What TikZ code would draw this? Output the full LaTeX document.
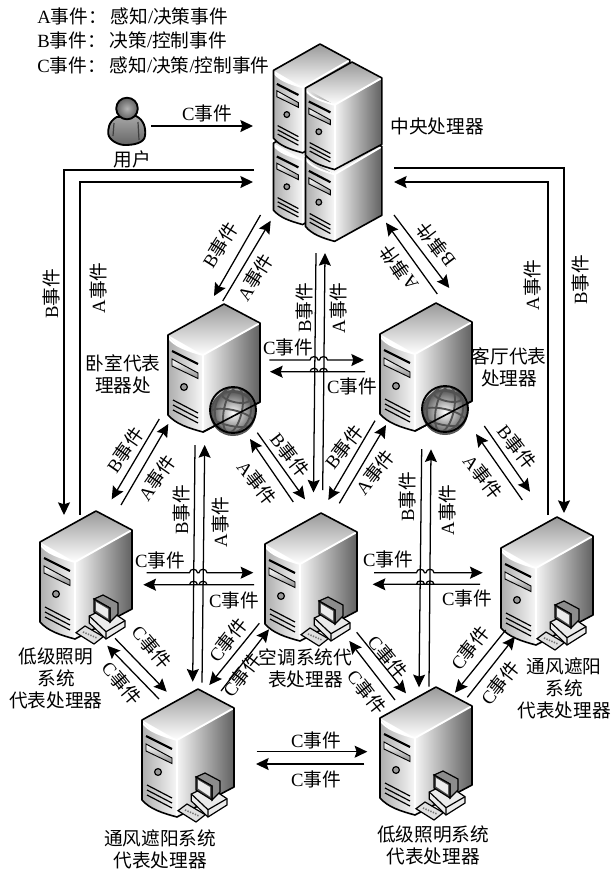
\documentclass[tikz,border=0pt]{standalone}
\usepackage{fontspec}
\usepackage{tikz}
\usetikzlibrary{arrows.meta}
\setmainfont{Liberation Serif}
\newfontfamily\cjk{Noto Sans CJK SC}
\tikzset{
  evt/.style={-{Stealth[length=9.5pt,width=9pt,inset=1.5pt]}, line width=0.95pt, draw=black},
  evtlab/.style={inner sep=0pt, font=\fontsize{14}{16.5}\selectfont},
  srvlab/.style={inner sep=0pt, align=center, font=\fontsize{14}{16.5}\selectfont\cjk},
  edge/.style={line width=1.2pt, line join=round, draw=black},
  pics/srv/.style={code={
    \shade[top color=black!40, bottom color=white]
      (0,0) -- (36,19) -- (-21,51) -- (-56,31) -- cycle;
    \shade[left color=black!4, right color=black!62]
      (-21,51) -- (36,19) -- (36,98) -- (-21,128) -- cycle;
    \shade[left color=black!32, right color=black!3]
      (-56,31) .. controls (-50,42) and (-38,46) .. (-21,51) -- (-21,128)
      .. controls (-36,124) and (-48,120) .. (-56,111) -- cycle;
    \draw[white, line width=1.4pt] (-56,33) .. controls (-50,42) and (-38,46) .. (-21,51) -- (36,19);
    \draw[white, line width=1.4pt] (-21,51) -- (-21,127);
    \draw[edge] (0,0) -- (36,19) -- (36,98) -- (-21,128)
      .. controls (-36,124) and (-48,120) .. (-56,111) -- (-56,31) -- cycle;
    % drive bay, button and vents
    \draw[line width=1.6pt] (-52,47) -- (-26,60);
    \draw[top color=white, bottom color=black!45, line width=0.7pt] (-52,55) -- (-26,69) -- (-26,74.5) -- (-52,62) -- cycle;
    \draw[fill=black!40, line width=0.9pt] (-40,83) circle (3.4);
    \foreach \dy in {0,5,10}
      \draw[line width=0.9pt] (-51,96+\dy) -- (-26,109+\dy);
  }},
  pics/srvglobe/.style={code={
    \shade[inner color=white, outer color=black!70] (9,109) circle (23);
    \begin{scope}
      \clip (9,106) circle (23);
      \draw[black!68, line width=1.4pt, rotate around={-12:(9,106)}]
        (9,106) ellipse (9 and 23) (9,106) ellipse (18 and 23)
        (9,93) ellipse (14 and 5) (9,114) ellipse (23 and 8);
    \end{scope}
    \draw[line width=1.4pt] (9,106) circle (23);
    \draw[edge] (-21,128) -- (36,98);
  }},
  pics/srvpc/.style={code={
    \draw[fill=black!12, line width=0.9pt] (-20,121.7) -- (-11,115) -- (7.3,125.7) -- (-2,133) -- cycle;
    \draw[black!55, line width=1.2pt, dash pattern=on 1pt off 1pt] (-13,121) -- (1,127);
    \draw[fill=black!8, line width=0.9pt] (-6.7,105) -- (10,97) -- (29,109.7) -- (29,116)
      -- (10,128) -- (-6.7,112) -- cycle;
    \draw[line width=0.9pt] (-6.7,105) -- (10,120.7) -- (29,109.7) (10,120.7) -- (10,128);
    \draw[fill=black!45, line width=0.9pt] (-2,88) -- (7,84) -- (22,92) -- (22,103) -- (14,111) -- (14,97) -- cycle;
    \draw[fill=black!70, line width=0.9pt] (-2,88) -- (14,97) -- (14,111) -- (-2,101) -- cycle;
    \fill[black!8] (0,91) -- (12,98) -- (12,107.5) -- (0,99.5) -- cycle;
  }}
}
\newcommand{\ev}[1]{#1{\cjk 事件}}
\newcommand{\hopline}[5]{%
  \draw[evt] (#1) -- ({#3-#5},0 |- #1) .. controls +(0,-4.5) and +(0,-4.5) .. ({#3+#5},0 |- #1)
    -- ({#4-#5},0 |- #1) .. controls +(0,-4.5) and +(0,-4.5) .. ({#4+#5},0 |- #1) -- (#2);
}
\begin{document}
\begin{tikzpicture}[x=0.75pt,y=-0.75pt]
  \useasboundingbox (0,0) rectangle (614,869);
  % legend
  \node[evtlab, anchor=north west, align=left, font=\fontsize{14}{18.4}\selectfont] (legend) at (37,7)
    {\ev{A}{\cjk ：}\hspace{3pt}{\cjk 感知}/{\cjk 决策事件}\\
     \ev{B}{\cjk ：}\hspace{3pt}{\cjk 决策}/{\cjk 控制事件}\\
     \ev{C}{\cjk ：}\hspace{3pt}{\cjk 感知}/{\cjk 决策}/{\cjk 控制事件}};
  % user
  \draw[edge, line width=1.4pt, top color=black!35, bottom color=black!60]
    (116.7,117) .. controls (108,122) and (108,130) .. (108.3,134) .. controls (109,140) and (118,145) .. (125,145)
    .. controls (134,145) and (144,143) .. (145,136) .. controls (146,128) and (144,120) .. (136,116) -- cycle;
  \draw[edge, line width=1.4pt, inner color=black!30, outer color=black!62] (127,108.5) circle (10.8);
  \draw[black!75, line width=0.9pt] (114,123) -- (113,136) (138,122) -- (139,140);
  \node[srvlab] (user) at (132.5,159) {用户};
  % central processor
  \pic[xscale=.83,yscale=.84] (cenlb) at (320,117) {srv};
  \pic[xscale=.83,yscale=.85] (cenub) at (320,44) {srv};
  \pic[xscale=.83,yscale=.87] (cenlf) at (352,130) {srv};
  \pic[xscale=.83,yscale=.84] (cenuf) at (352,62) {srv};
  \node[srvlab] (cenlab) at (437,126) {中央处理器};
  % room processors
  \foreach \n/\x/\y in {bed/224/304, liv/436/303} {
    \pic (\n) at (\x,\y) {srv};
    \pic (\n g) at (\x,\y) {srvglobe};
  }
  % system processors
  \foreach \n/\x/\y in {lowl/96/511, air/321/513, venr/557/517, venb/198/689, lowb/436/687} {
    \pic (\n) at (\x,\y) {srv};
    \pic (\n p) at (\x,\y) {srvpc};
  }
  \node[srvlab] (bedlab) at (123,374) {卧室代表\\理器处};
  \node[srvlab] (livlab) at (509,367.5) {客厅代表\\处理器};
  \node[srvlab] (lowllab) at (56,678.5) {低级照明\\系统\\代表处理器};
  \node[srvlab] (airlab) at (305.5,668.5) {空调系统代\\表处理器};
  \node[srvlab] (venrlab) at (564,688.5) {通风遮阳\\系统\\代表处理器};
  \node[srvlab] (venblab) at (160,849) {通风遮阳系统\\代表处理器};
  \node[srvlab] (lowblab) at (433,845) {低级照明系统\\代表处理器};
  % straight event arrows
  \foreach \n/\ax/\ay/\bx/\by in {
    ucs/151/126/253/126,
    cbb/260.5/215/214/296, cba/222.7/301/270.7/220.7,
    clb/394/215/449.3/288, cla/437.3/294/386/222.7,
    cab/316/253/313.5/492.5, caa/322.7/490/325/253,
    bvb/195/445/192.7/681.7, bva/202/682.7/204.7/445,
    lvb/421.7/449/419/687.3, lva/429/686.7/431/449.3,
    blb/159.3/419/111.7/499.3, bla/121/505/168.3/424,
    bab/257.3/432.7/305/499.3, baa/293.3/502/250/439,
    lab/375/420.7/328.3/500, laa/339.3/503.3/386/425,
    lrb/484.3/426/530/491.7, lra/522.3/500/476/434,
    lla/115/638.3/166.7/691.7, llb/159/699/107.3/645.7,
    aba/259.3/623.3/209.3/685, abb/221/691/269/629.3,
    ara/356.7/632.3/406/693.3, arb/395/700/349.3/641,
    rra/505.7/630/455/692.7, rrb/467.3/697.3/515/636.7,
    bba/256.7/751.7/367.3/751.7, bbb/364.3/764/256/764} {
    \coordinate (\n s) at (\ax,\ay);
    \coordinate (\n e) at (\bx,\by);
    \draw[evt] (\n s) -- (\n e);
  }
  % long way round
  \coordinate (oubs) at (254,170); \coordinate (oube) at (64,515);
  \coordinate (ouas) at (80,515); \coordinate (ouae) at (253,182);
  \coordinate (orbs) at (394,168); \coordinate (orbe) at (564,513);
  \coordinate (oras) at (548,515); \coordinate (orae) at (394,182);
  \draw[evt] (oubs) -| (oube);
  \draw[evt] (ouas) |- (ouae);
  \draw[evt] (orbs) -| (orbe);
  \draw[evt] (oras) |- (orae);
  % crossings
  \foreach \n/\ax/\ay/\bx/\by in {
    hta/269.3/360/364/360, htb/365/371.7/270/371.7,
    hma/146.7/572.7/253.3/572.7, hmb/254/584.7/143.3/584.7,
    hra/374/572.7/482.7/572.7, hrb/480/584.3/372.7/584.3} {
    \coordinate (\n s) at (\ax,\ay);
    \coordinate (\n e) at (\bx,\by);
  }
  \hopline{htas}{htae}{314}{323.5}{4}
  \hopline{htbs}{htbe}{323.5}{314}{4}
  \hopline{hmas}{hmae}{193.5}{203}{4}
  \hopline{hmbs}{hmbe}{203}{193.5}{4}
  \hopline{hras}{hrae}{420.5}{430}{4}
  \hopline{hrbs}{hrbe}{430}{420.5}{4}
  % event labels
  \foreach \x/\y/\a/\t [count=\n] in {
    207/113/0/C, 51/294/90/B, 98/288/90/A, 532/285/90/A, 580/280/90/B,
    220/245/58/B, 255/277/58/A, 399/268/125/A, 436/245/127/B,
    304/308/90/B, 338/308/90/A, 288/347/0/C, 352/386/0/C,
    125/450/55/B, 157/478/55/A, 181/510/90/B, 220/522/90/A,
    290/455/-52/B, 257/483/-52/A, 344/447/52/B, 375/472/52/A,
    407/497/90/B, 447/510/90/A, 517/447/-52/B, 483/477/-52/A,
    160/560/0/C, 234/600/0/C, 388/559/0/C, 467/598/0/C,
    152/647/-50/C, 122/683/-50/C, 228/640/52/C, 242/675/52/C,
    388/657/-50/C, 367/692/-52/C, 470/648/52/C, 500/683/52/C,
    316/740/0/C, 316/779/0/C} {
    \node[evtlab, rotate=\a] (ev\n) at (\x,\y) {\ev{\t}};
  }
\end{tikzpicture}
\end{document}
